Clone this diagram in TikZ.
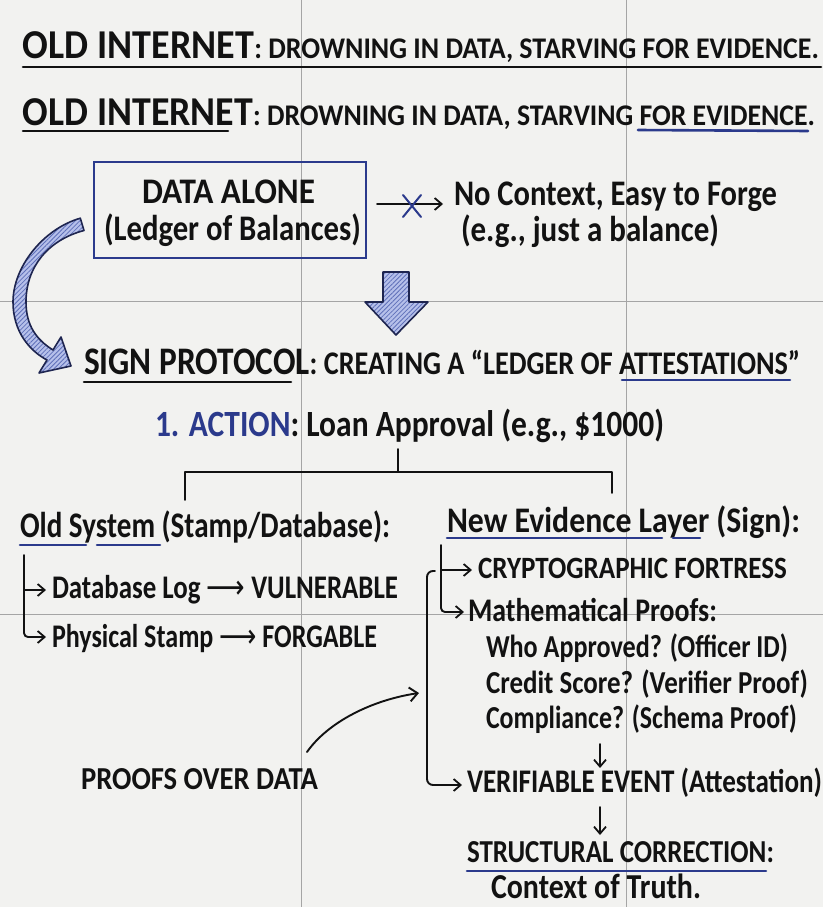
\documentclass[tikz,border=0pt]{standalone}
\usepackage{fontspec}
\setmainfont{Carlito}
\newfontfamily\symf{DejaVu Sans}
\usetikzlibrary{arrows.meta,patterns.meta}
\definecolor{bg}{RGB}{242,242,240}
\definecolor{gridc}{RGB}{165,165,165}
\definecolor{inkblue}{RGB}{43,58,140}
\definecolor{ink}{RGB}{18,18,18}
\definecolor{arrowfill}{RGB}{182,192,234}
\definecolor{hatch}{RGB}{95,112,185}
\definecolor{arrowedge}{RGB}{30,37,80}
\newcommand\fs[1]{\fontsize{#1}{#1}\selectfont}
\newcommand\fitw[2]{\resizebox{#1pt}{\height}{#2}}
\newcommand\ar{{\symf\mdseries ⟶}}
\begin{document}
\begin{tikzpicture}[x=1pt,y=-1pt,
  txt/.style={inner sep=0pt, outer sep=0pt, anchor=base west, text=ink, font=\bfseries},
  conn/.style={draw=ink, line width=1.9pt, line cap=round, line join=round},
  tipped/.style={conn, -{Straight Barb[length=7pt,width=12pt,line width=1.8pt]}},
  uline/.style={line width=2.6pt, line cap=round},
  blockarrow/.style={preaction={fill=arrowfill}, pattern={Lines[angle=45,distance=3.2pt,line width=0.8pt]}, pattern color=hatch, draw=arrowedge, line width=1.6pt, line join=round}
]
\useasboundingbox (0,0) rectangle (823,907);
\fill[bg] (0,0) rectangle (823,907);
% grid
\draw[gridc, line width=0.8pt] (301,0) -- (301,907) (626,0) -- (626,907)
  (0,301) -- (823,301) (0,614) -- (823,614);

% titles
\node[txt] (t1) at (23,58) {\fitw{796}{\fs{41}OLD INTERNET\fs{30}: DROWNING IN DATA, STARVING FOR EVIDENCE.}};
\draw[uline, ink] (23,67) -- (821,67);
\node[txt] (t2) at (23,125) {\fitw{792}{\fs{41}OLD INTERNET\fs{30}: DROWNING IN DATA, STARVING FOR EVIDENCE.}};
\draw[uline, ink] (23,131) -- (228,131);
\draw[uline, inkblue] (638,130) -- (808,131);

% data box
\node[draw=inkblue, line width=2pt, minimum width=272pt, minimum height=96pt, inner sep=0pt] (box) at (230,210) {};
\node[txt] (data) at (142,203) {\fitw{173}{\fs{36}DATA ALONE}};
\node[txt] (ledger) at (104,240) {\fitw{257}{\fs{36}(Ledger of Balances)}};
\node[txt] (nocontext) at (454,205) {\fitw{323}{\fs{36}No Context, Easy to Forge}};
\node[txt] (eg) at (461,241) {\fitw{258}{\fs{36}(e.g., just a balance)}};
\coordinate (xa) at (377,204);
\coordinate (xb) at (443,204);
\draw[tipped] (xa) -- (xb);
\draw[inkblue, line width=2pt, line cap=round] (403,195) -- (421,217) (403,217) -- (421,195);

% big down arrow
\draw[blockarrow] (383,272) -- (409,272) -- (409,302) -- (428,302) -- (396,335) -- (365,302) -- (383,302) -- cycle;

% curved block arrow
\draw[blockarrow] (80.3,218.2) .. controls (43,229) and (13,267) .. (13,302)
  .. controls (13,332) and (30,351) .. (47,360) -- (39,373) -- (71,366) -- (61,337) -- (53,350)
  .. controls (37,340) and (26,326) .. (26,302) .. controls (26,267) and (48,240) .. (84,230.5) -- cycle;

% sign protocol
\node[txt] (sign) at (84,374) {\fitw{716}{\fs{39}SIGN PROTOCOL\fs{33}: CREATING A “LEDGER OF ATTESTATIONS”}};
\draw[uline, ink] (84,382) -- (291,382);
\draw[uline, inkblue] (622,380) -- (790,380);

\node[txt] (action) at (155,436) {\fitw{509}{\fs{37}\textcolor{inkblue}{1. ACTION}: Loan Approval (e.g., \$1000)}};

% tree
\coordinate (trunk) at (398,449);
\coordinate (fork) at (398,472);
\coordinate (lbr) at (185,500);
\coordinate (rbr) at (612,493);
\draw[conn] (trunk) -- (fork);
\draw[conn] (lbr) |- (fork) -| (rbr);

% old system
\node[txt] (old) at (20,537) {\fitw{370}{\fs{36}Old System (Stamp/Database):}};
\draw[uline, inkblue] (20,545) -- (86,545) (97,545) -- (160,545);
\node[txt] (dblog) at (52,598) {\fitw{346}{\fs{33}Database Log \ar{} VULNERABLE}};
\node[txt] (phys) at (52,647) {\fitw{325}{\fs{33}Physical Stamp \ar{} FORGABLE}};
\coordinate (ltop) at (24,555);
\coordinate (lmid) at (24,590);
\coordinate (la) at (46,590);
\coordinate (lb) at (46,637);
\draw[tipped, rounded corners=4pt] (ltop) |- (lb);
\draw[tipped] (lmid) -- (la);

% new evidence layer
\node[txt] (new) at (447,532) {\fitw{353}{\fs{36}New Evidence Layer (Sign):}};
\draw[uline, inkblue] (447,538) -- (662,538) (673,538) -- (700,538);
\node[txt] (crypto) at (478,578) {\fitw{309}{\fs{31}CRYPTOGRAPHIC FORTRESS}};
\node[txt] (math) at (468,621) {\fitw{249}{\fs{33}Mathematical Proofs:}};
\node[txt] (who) at (486,657) {\fitw{302}{\fs{32}Who Approved? (Officer ID)}};
\node[txt] (credit) at (486,693) {\fitw{322}{\fs{32}Credit Score? (Verifier Proof)}};
\node[txt] (compl) at (486,728) {\fitw{311}{\fs{32}Compliance? (Schema Proof)}};
\node[txt] (verif) at (467,792) {\fitw{355}{\fs{33}VERIFIABLE EVENT (Attestation)}};
\node[txt] (struct) at (467,862) {\fitw{307}{\fs{32}STRUCTURAL CORRECTION:}};
\draw[uline, inkblue] (467,871) -- (766,871);
\node[txt] (context) at (491,898) {\fitw{210}{\fs{35}Context of Truth.}};
\node[txt] (proofs) at (81,789) {\fitw{237}{\fs{32}PROOFS OVER DATA}};

\coordinate (rtop) at (441,545);
\coordinate (rmid) at (441,570);
\coordinate (ra) at (472,570);
\coordinate (rb) at (464,612);
\draw[tipped, rounded corners=4pt] (rtop) |- (rb);
\draw[tipped] (rmid) -- (ra);

\coordinate (btop) at (435,571);
\coordinate (bcorner) at (427,785);
\coordinate (bend) at (462,785);
\draw[tipped, rounded corners=6pt] (btop) -- (427,571) -- (bcorner) -- (bend);

\coordinate (d1a) at (600,744);
\coordinate (d1b) at (600,768);
\coordinate (d2a) at (600,807);
\coordinate (d2b) at (600,835);
\draw[tipped] (d1a) -- (d1b);
\draw[tipped] (d2a) -- (d2b);

\coordinate (pa) at (307,752);
\coordinate (pb) at (419,693);
\draw[conn, -{Straight Barb[length=8pt,width=14pt,line width=1.9pt]}] (pa) .. controls (328,722) and (372,700) .. (pb);
\end{tikzpicture}
\end{document}
